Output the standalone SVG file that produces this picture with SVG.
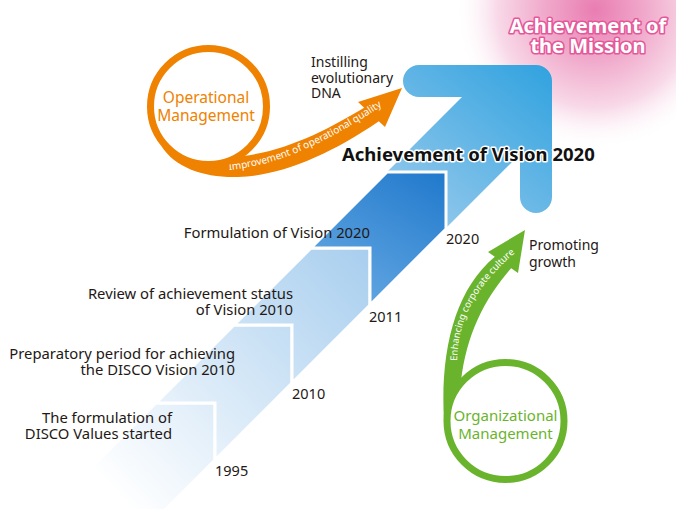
<svg xmlns="http://www.w3.org/2000/svg" width="676" height="509" viewBox="0 0 676 509">
<defs>
  <radialGradient id="glow" gradientUnits="userSpaceOnUse" cx="595" cy="10" r="140">
    <stop offset="0" stop-color="#e97db2"/>
    <stop offset="0.35" stop-color="#f0a8ca"/>
    <stop offset="0.7" stop-color="#f8d9e8"/>
    <stop offset="1" stop-color="#ffffff" stop-opacity="0"/>
  </radialGradient>
  <linearGradient id="arrowGrad" gradientUnits="userSpaceOnUse" x1="430" y1="215" x2="552" y2="65">
    <stop offset="0" stop-color="#8dc6eb"/>
    <stop offset="1" stop-color="#30a2df"/>
  </linearGradient>
  <linearGradient id="lightGrad" gradientUnits="userSpaceOnUse" x1="120" y1="500" x2="380" y2="250">
    <stop offset="0" stop-color="#ffffff"/>
    <stop offset="1" stop-color="#a6cdee"/>
  </linearGradient>
  <linearGradient id="darkGrad" gradientUnits="userSpaceOnUse" x1="370" y1="300" x2="446" y2="172">
    <stop offset="0" stop-color="#5ea3e0"/>
    <stop offset="1" stop-color="#2079cc"/>
  </linearGradient>
  <style>
    .lbl { font-family: "Noto Sans", "DejaVu Sans", sans-serif; font-size: 14.8px; fill: #231815; }
    .yr { font-family: "Noto Sans", "DejaVu Sans", sans-serif; font-size: 14.5px; fill: #231815; }
    .small { font-family: "Noto Sans", "DejaVu Sans", sans-serif; font-size: 14px; fill: #231815; }
    .end { text-anchor: end; }
    .step { stroke: #ffffff; stroke-width: 3; stroke-linejoin: miter; }
    .orange { fill: #ef8200; }
    .green { fill: #6ab42d; }
    .ring { fill: none; stroke-width: 7; }
    .mgmt { font-family: "Noto Sans", "DejaVu Sans", sans-serif; font-size: 15.5px; text-anchor: middle; }
    .onarrow { font-family: "Noto Sans", "DejaVu Sans", sans-serif; font-size: 10px; fill: #ffffff; }
    .mission { font-family: "Noto Sans", "DejaVu Sans", sans-serif; font-weight: bold; font-size: 20px; fill: #ffffff; stroke: #e4589a; stroke-width: 3.2; paint-order: stroke; stroke-linejoin: round; text-anchor: middle; }
    .vision { font-family: "Noto Sans", "DejaVu Sans", sans-serif; font-weight: bold; font-size: 18.5px; fill: #111111; stroke: #ffffff; stroke-width: 3; paint-order: stroke; stroke-linejoin: round; }
  </style>
</defs>

<rect x="0" y="0" width="676" height="509" fill="#ffffff"/>

<g id="mission-glow">
  <circle cx="595" cy="10" r="140" fill="url(#glow)"/>
</g>

<g id="main-arrow">
  <path d="M 370,304 L 520,154 L 520,197 A 16 16 0 0 0 552,197 L 552,81 A 16 16 0 0 0 536,65 L 419,65 A 16 16 0 0 0 419,97 L 462,97 L 387,172 Z" fill="url(#arrowGrad)"/>
</g>

<g id="step-1995">
  <polygon class="step" points="156,403 215,403 215,460 155,520 39,520" fill="url(#lightGrad)"/>
</g>
<g id="step-2010">
  <polygon class="step" points="234,325 292,325 292,383 215,460 215,403 156,403" fill="url(#lightGrad)"/>
</g>
<g id="step-2011">
  <polygon class="step" points="311,248 370,248 370,305 292,383 292,325 234,325" fill="url(#lightGrad)"/>
</g>
<g id="step-2020">
  <polygon class="step" points="387,172 446,172 446,229 370,305 370,248 311,248" fill="url(#darkGrad)"/>
</g>

<g id="connectors">
  <path id="orangeArrow" class="orange" d="M 161.4,146 C 175,168 205,178 238,177 C 280,176 330,155 378.8,121.3 L 385,127 L 402,88 L 358,102 L 364.2,107.7 C 330,128 290,150 243,156 A 56 56 0 0 1 172.5,149.4 Z"/>
  <path id="greenArrow" class="green" d="M 444,421 C 440,350 455,290 494.8,256.8 L 488,252 L 525,230 L 518,273 L 511.2,268.2 C 485,298 466,335 461,382 A 58 58 0 0 0 447.5,421 Z"/>
  <path id="orangeTextPath" d="M 229,170 C 270,166 320,149 392,99" fill="none"/>
  <path id="greenTextPath" d="M 457,361 C 458,322 472,290 517,251" fill="none"/>
  <text class="onarrow"><textPath href="#orangeTextPath">Improvement of operational quality</textPath></text>
  <text class="onarrow" style="font-size:9.5px"><textPath href="#greenTextPath">Enhancing corporate culture</textPath></text>
</g>

<g id="operational-management">
  <circle class="ring" cx="208.5" cy="106.5" r="58" stroke="#ef8200"/>
  <text class="mgmt orange" x="206" y="102.7">Operational</text>
  <text class="mgmt orange" x="206" y="121">Management</text>
</g>

<g id="organizational-management">
  <circle class="ring" cx="505.5" cy="421" r="58.5" stroke="#6ab42d"/>
  <text class="mgmt green" x="505.5" y="421" style="font-size:15px">Organizational</text>
  <text class="mgmt green" x="505.5" y="439.3" style="font-size:15px">Management</text>
</g>

<g id="labels">
  <text class="small" x="311" y="67">Instilling</text>
  <text class="small" x="311" y="82.5">evolutionary</text>
  <text class="small" x="311" y="98">DNA</text>
  <text class="small" x="529" y="250">Promoting</text>
  <text class="small" x="529" y="267">growth</text>

  <text class="lbl end" x="370" y="238">Formulation of Vision 2020</text>
  <text class="lbl end" x="293" y="299">Review of achievement status</text>
  <text class="lbl end" x="293" y="315">of Vision 2010</text>
  <text class="lbl end" x="235" y="359">Preparatory period for achieving</text>
  <text class="lbl end" x="235" y="375">the DISCO Vision 2010</text>
  <text class="lbl end" x="172" y="423">The formulation of</text>
  <text class="lbl end" x="172" y="439">DISCO Values started</text>

  <text class="yr" x="446" y="244">2020</text>
  <text class="yr" x="369" y="322">2011</text>
  <text class="yr" x="292" y="399">2010</text>
  <text class="yr" x="215" y="476">1995</text>
</g>

<g id="vision-title">
  <text class="vision" x="342" y="161">Achievement of Vision 2020</text>
</g>

<g id="mission-title">
  <text class="mission" x="588" y="33">Achievement of</text>
  <text class="mission" x="588" y="53">the Mission</text>
</g>
</svg>
